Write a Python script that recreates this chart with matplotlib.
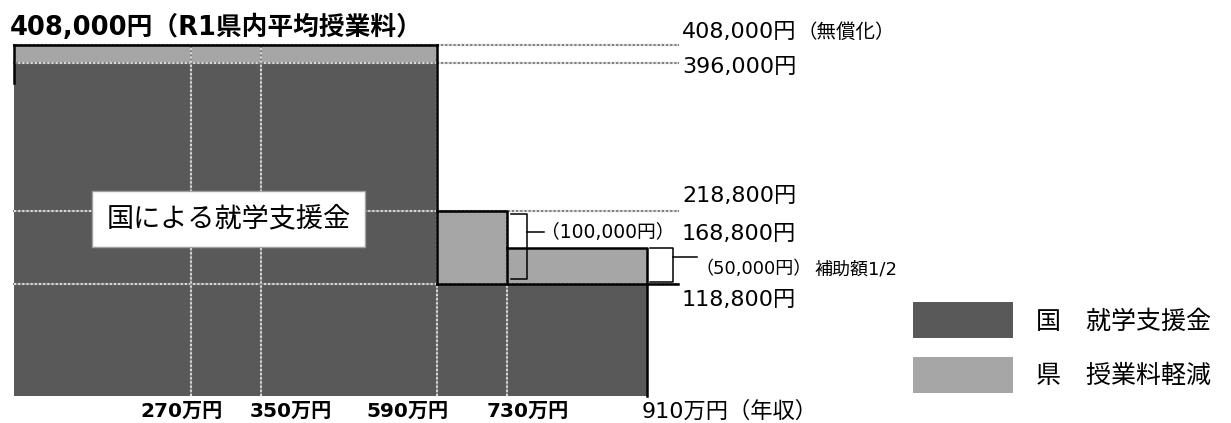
import numpy as np
import matplotlib.pyplot as plt
from matplotlib.patches import Patch
from matplotlib.lines import Line2D
from matplotlib.transforms import IdentityTransform

plt.rcParams['font.family'] = ['DejaVu Sans', 'Noto Sans CJK JP']

# 年収の区切り（万円）
income_edges = [0, 270, 350, 590, 730, 910]
# 区間ごとの支援額（円）
national = [396000, 396000, 396000, 118800, 118800]
prefecture = [12000, 12000, 12000, 100000, 50000]

levels = [408000, 396000, 218800, 168800, 118800]
level_labels = ["408,000円", "396,000円", "218,800円", "168,800円", "118,800円"]
income_labels = ["270万円", "350万円", "590万円", "730万円"]
last_label = "910万円（年収）"

DARK = '#595959'
LIGHT = '#a6a6a6'

# schematic (not to scale) axes, like the original drawing
x_layout = np.array([0, 177, 247, 423, 493, 633]) / 633
y_breaks = [0, 118800, 168800, 218800, 396000, 408000]
y_layout = np.array([0, 111.4, 147.7, 184.7, 332.4, 350.4]) / 350.4

fig = plt.figure(figsize=(12.31, 4.23), dpi=100)
W, H = 1231, 423
ax = fig.add_axes([14 / W, (H - 395.7) / H, 633 / W, 350.4 / H])
ax.set_xscale('function', functions=(lambda v: np.interp(v, income_edges, x_layout),
                                     lambda v: np.interp(v, x_layout, income_edges)))
ax.set_yscale('function', functions=(lambda v: np.interp(v, y_breaks, y_layout),
                                     lambda v: np.interp(v, y_layout, y_breaks)))
ax.set_xlim(0, 910)
ax.set_ylim(0, 408000)
ax.set_autoscale_on(False)
ax.set_axis_off()

nat = national + [national[-1]]
top = [n + p for n, p in zip(national, prefecture)]
top = top + [top[-1]]
ax.fill_between(income_edges, 0, nat, step='post', color=DARK, lw=0, zorder=1)
ax.fill_between(income_edges, nat, top, step='post', color=LIGHT, lw=0, zorder=1)

# dotted grid
def grid(draw):
    draw(color='#808080', lw=1.5, zorder=2)
    draw(color='#dadada', lw=1.5, ls=(0, (1, 1)), zorder=2)

xr = 1.049
for y in [408000, 396000, 218800, 118800]:
    grid(lambda **kw: ax.axhline(y, 0, xr, clip_on=False, **kw))
grid(lambda **kw: ax.vlines([270, 350, 590], 0, 408000, **kw))
grid(lambda **kw: ax.vlines(730, 0, 218800, **kw))

# black outlines
bk = dict(color='black', lw=1.8, zorder=5, clip_on=False, solid_capstyle='projecting')
ax.plot([0, 590], [408000, 408000], **bk)
ax.plot([0, 0], [408000, 372000], **bk)
ax.plot([590, 590], [408000, 118800], **bk)
ax.plot([590, 730, 730], [218800, 218800, 118800], **bk)
ax.plot([730, 910, 910], [168800, 168800, 0], **bk)
ax.axhline(118800, 423 / 633, xr, color='black', lw=1.8, zorder=5, clip_on=False)

# value labels on the right
dys = [13, -4, 15, 14, -16]
for lv, lab, dy in zip(levels, level_labels, dys):
    t = ax.annotate(lab, xy=(1, lv), xycoords=ax.get_yaxis_transform(),
                    xytext=(35, dy), textcoords='offset pixels',
                    ha='left', va='center', fontsize=16)
    if lv == 408000:
        ax.annotate('（無償化）', xy=(1, 0), xycoords=t, xytext=(1, 0),
                    textcoords='offset pixels', ha='left', va='bottom', fontsize=14)

# brackets
def px(x, y):
    return ax.transData.transform((x, y))

idt = IdentityTransform()
lk = dict(color='black', lw=1.1, transform=idt)

x0, yt = px(730, 218800)
_, yb = px(730, 118800)
fig.add_artist(Line2D([x0 + 4, x0 + 20, x0 + 20, x0 + 4],
                      [yt - 3.3, yt - 3.3, yb + 5, yb + 5], **lk))
fig.add_artist(Line2D([x0 + 20, x0 + 37], [yt - 21.3, yt - 21.3], **lk))
fig.text(x0 + 34, yt - 21.3, '（100,000円）', transform=idt, ha='left', va='center', fontsize=13.5)

x0, yt = px(910, 168800)
_, yb = px(910, 118800)
fig.add_artist(Line2D([x0 + 3, x0 + 26, x0 + 26, x0 + 3],
                      [yt, yt, yb + 2, yb + 2], **lk))
fig.add_artist(Line2D([x0 + 26, x0 + 50], [yt - 8.7, yt - 8.7], **lk))
t = fig.text(x0 + 48, yt - 21, '（50,000円）', transform=idt, ha='left', va='center', fontsize=13)
ax.annotate('補助額1/2', xy=(1, 0.5), xycoords=t, xytext=(3, 0),
            textcoords='offset pixels', ha='left', va='center', fontsize=13)

# income labels
dxs = [-10, 30, -29, 21]
for inc, lab, dx in zip(income_edges[1:-1], income_labels, dxs):
    ax.annotate(lab, xy=(inc, 0), xytext=(dx, -6), textcoords='offset pixels',
                ha='center', va='top', fontsize=14.5, fontweight='bold')
ax.annotate(last_label, xy=(income_edges[-1], 0), xytext=(-5, -5),
            textcoords='offset pixels', ha='left', va='top', fontsize=16)

# title and box label
fig.text(10 / W, 1 - 28 / H, '408,000円（R1県内平均授業料）', ha='left', va='center',
         fontsize=18.5, fontweight='bold')
ax.text(214.5 / 633, (395.7 - 219) / 350.4, '国による就学支援金', transform=ax.transAxes,
        ha='center', va='center', fontsize=19.5, zorder=6,
        bbox=dict(boxstyle='square,pad=0.55', fc='white', ec='#a0a0a0', lw=1))

ax.legend(handles=[Patch(fc=DARK, ec='none'), Patch(fc=LIGHT, ec='none')],
          labels=['国　就学支援金', '県　授業料軽減'],
          loc='upper left', bbox_to_anchor=(912.7 / W, (H - 302.3) / H),
          bbox_transform=fig.transFigure, frameon=False, fontsize=18,
          handlelength=4.0, handleheight=1.85, handletextpad=0.95,
          labelspacing=0.75, borderpad=0, borderaxespad=0)

fig.savefig('out.png', dpi=100)
